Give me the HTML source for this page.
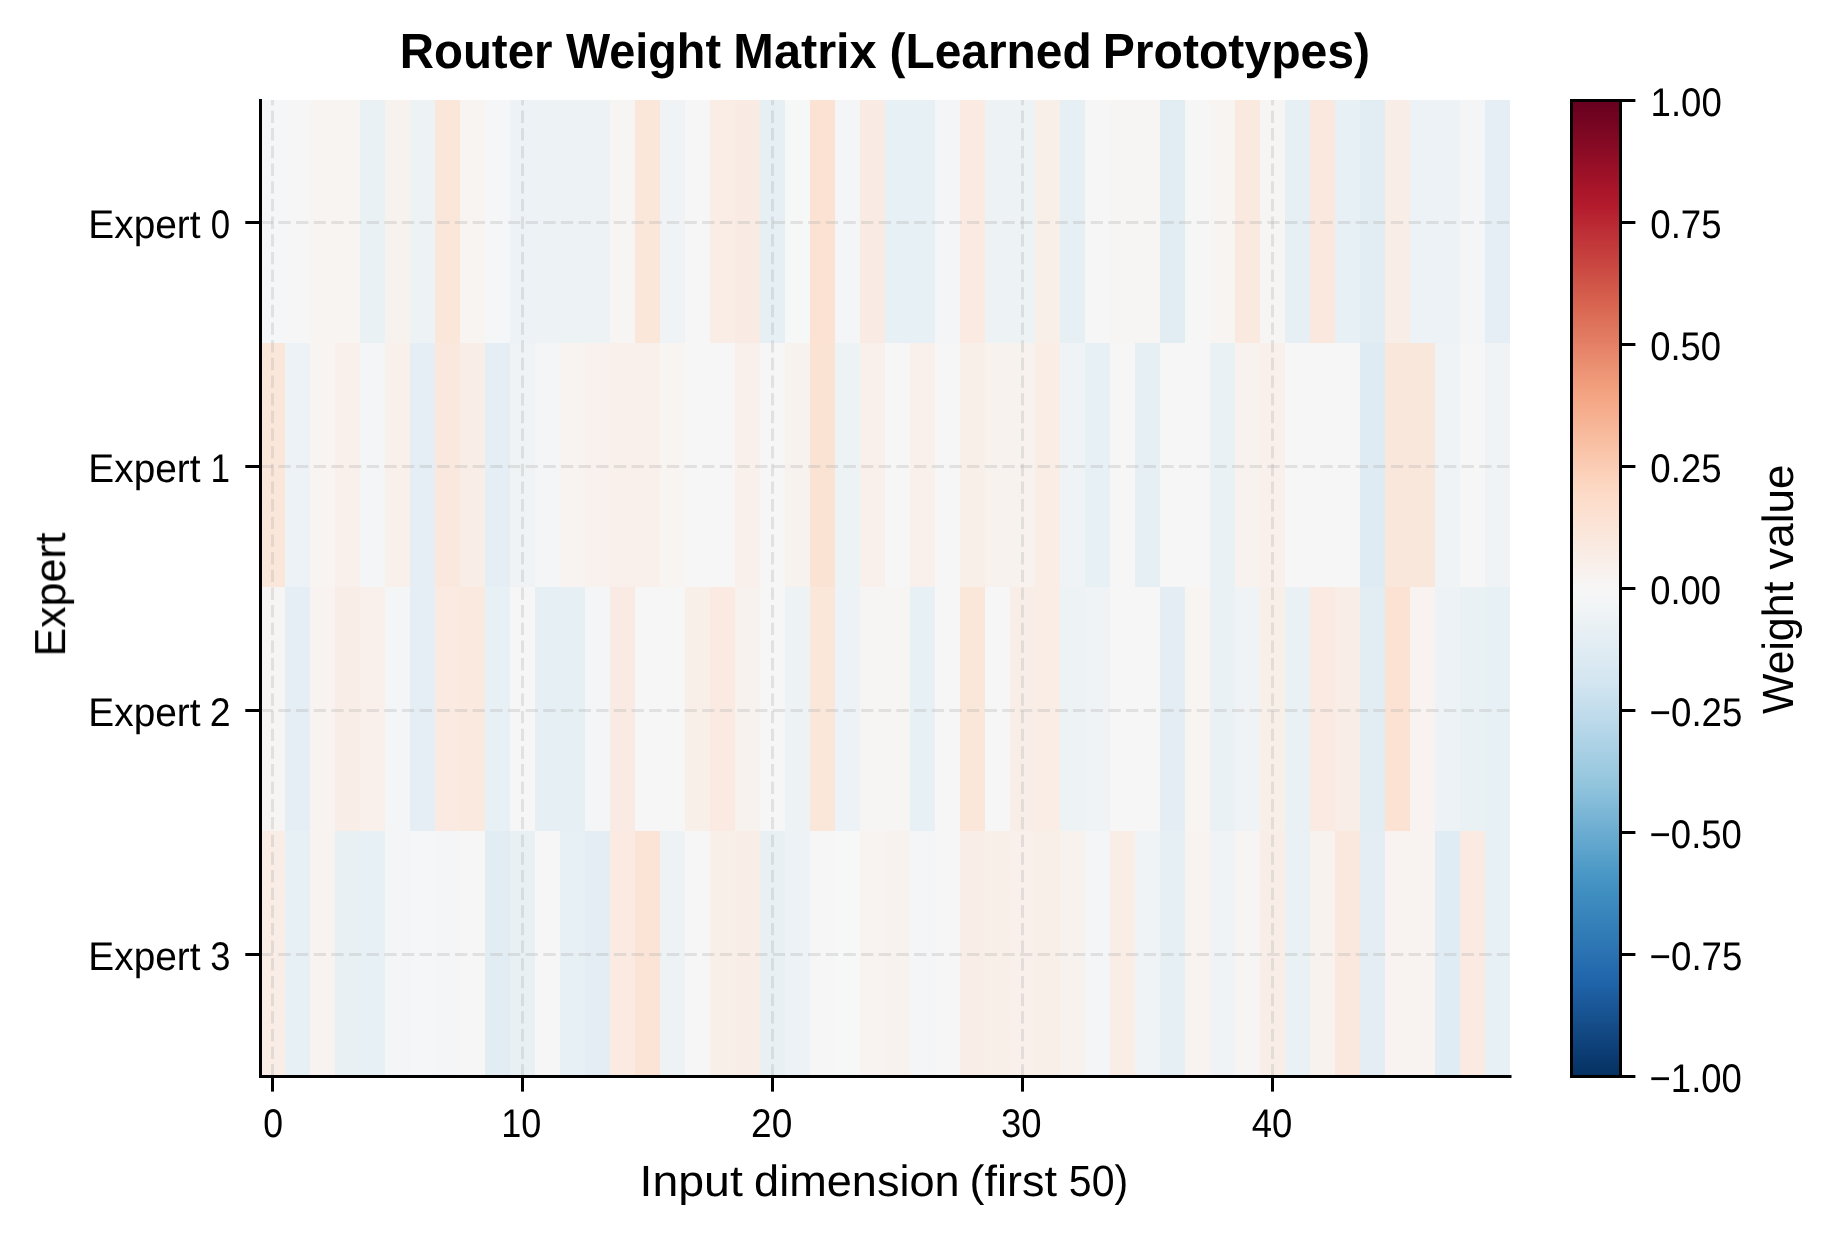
<!DOCTYPE html>
<html><head><meta charset="utf-8"><title>Router Weight Matrix (Learned Prototypes)</title>
<style>
html,body{margin:0;padding:0;background:#fff;}
body{width:1831px;height:1234px;overflow:hidden;font-family:"Liberation Sans",sans-serif;}
svg text{font-family:"Liberation Sans",sans-serif;}
</style></head><body>
<svg width="1831" height="1234" viewBox="0 0 1831 1234" style="display:block">
<defs><linearGradient id="cb" x1="0" y1="0" x2="0" y2="1">
<stop offset="0.0000" stop-color="#67001f"/>
<stop offset="0.0156" stop-color="#700320"/>
<stop offset="0.0312" stop-color="#7c0722"/>
<stop offset="0.0469" stop-color="#870a24"/>
<stop offset="0.0625" stop-color="#930e26"/>
<stop offset="0.0781" stop-color="#9f1228"/>
<stop offset="0.0938" stop-color="#ab162a"/>
<stop offset="0.1094" stop-color="#b41c2d"/>
<stop offset="0.1250" stop-color="#ba2832"/>
<stop offset="0.1406" stop-color="#bf3338"/>
<stop offset="0.1562" stop-color="#c53e3d"/>
<stop offset="0.1719" stop-color="#cb4942"/>
<stop offset="0.1875" stop-color="#d05548"/>
<stop offset="0.2031" stop-color="#d6604d"/>
<stop offset="0.2188" stop-color="#db6b55"/>
<stop offset="0.2344" stop-color="#df765e"/>
<stop offset="0.2500" stop-color="#e48066"/>
<stop offset="0.2656" stop-color="#e98b6e"/>
<stop offset="0.2812" stop-color="#ee9677"/>
<stop offset="0.2969" stop-color="#f2a17f"/>
<stop offset="0.3125" stop-color="#f5aa89"/>
<stop offset="0.3281" stop-color="#f6b394"/>
<stop offset="0.3438" stop-color="#f8bb9e"/>
<stop offset="0.3594" stop-color="#f9c4a9"/>
<stop offset="0.3750" stop-color="#fbccb4"/>
<stop offset="0.3906" stop-color="#fcd5bf"/>
<stop offset="0.4062" stop-color="#fddcc9"/>
<stop offset="0.4219" stop-color="#fce0d0"/>
<stop offset="0.4375" stop-color="#fbe5d8"/>
<stop offset="0.4531" stop-color="#fae9df"/>
<stop offset="0.4688" stop-color="#f9eee7"/>
<stop offset="0.4844" stop-color="#f8f2ef"/>
<stop offset="0.5000" stop-color="#f7f6f6"/>
<stop offset="0.5156" stop-color="#f2f5f6"/>
<stop offset="0.5312" stop-color="#ecf2f5"/>
<stop offset="0.5469" stop-color="#e6eff4"/>
<stop offset="0.5625" stop-color="#e0ecf3"/>
<stop offset="0.5781" stop-color="#dae9f2"/>
<stop offset="0.5938" stop-color="#d4e6f1"/>
<stop offset="0.6094" stop-color="#cce2ef"/>
<stop offset="0.6250" stop-color="#c2ddec"/>
<stop offset="0.6406" stop-color="#b8d8e9"/>
<stop offset="0.6562" stop-color="#aed3e6"/>
<stop offset="0.6719" stop-color="#a5cee3"/>
<stop offset="0.6875" stop-color="#9bc9e0"/>
<stop offset="0.7031" stop-color="#90c4dd"/>
<stop offset="0.7188" stop-color="#84bcd9"/>
<stop offset="0.7344" stop-color="#78b4d5"/>
<stop offset="0.7500" stop-color="#6bacd1"/>
<stop offset="0.7656" stop-color="#5fa5cd"/>
<stop offset="0.7812" stop-color="#529dc8"/>
<stop offset="0.7969" stop-color="#4695c4"/>
<stop offset="0.8125" stop-color="#3f8ec0"/>
<stop offset="0.8281" stop-color="#3a87bd"/>
<stop offset="0.8438" stop-color="#3480b9"/>
<stop offset="0.8594" stop-color="#2f79b5"/>
<stop offset="0.8750" stop-color="#2a71b2"/>
<stop offset="0.8906" stop-color="#246aae"/>
<stop offset="0.9062" stop-color="#1f63a8"/>
<stop offset="0.9219" stop-color="#1b5a9c"/>
<stop offset="0.9375" stop-color="#175290"/>
<stop offset="0.9531" stop-color="#124984"/>
<stop offset="0.9688" stop-color="#0e4179"/>
<stop offset="0.9844" stop-color="#09386d"/>
<stop offset="1.0000" stop-color="#053061"/>
</linearGradient></defs>
<rect width="1831" height="1234" fill="#ffffff"/>
<g shape-rendering="crispEdges">
<rect x="260" y="100" width="25" height="243" fill="#f5f6f7"/>
<rect x="285" y="100" width="25" height="243" fill="#f7f6f6"/>
<rect x="310" y="100" width="50" height="243" fill="#f8f4f2"/>
<rect x="360" y="100" width="25" height="243" fill="#eaf1f5"/>
<rect x="385" y="100" width="25" height="243" fill="#f8f2ef"/>
<rect x="410" y="100" width="25" height="243" fill="#edf2f5"/>
<rect x="435" y="100" width="25" height="243" fill="#fbe6da"/>
<rect x="460" y="100" width="25" height="243" fill="#f8f4f2"/>
<rect x="485" y="100" width="25" height="243" fill="#f5f6f7"/>
<rect x="510" y="100" width="25" height="243" fill="#ecf2f5"/>
<rect x="535" y="100" width="75" height="243" fill="#edf2f5"/>
<rect x="610" y="100" width="25" height="243" fill="#f7f5f4"/>
<rect x="635" y="100" width="25" height="243" fill="#fbe6da"/>
<rect x="660" y="100" width="25" height="243" fill="#eff3f5"/>
<rect x="685" y="100" width="25" height="243" fill="#f7f6f6"/>
<rect x="710" y="100" width="25" height="243" fill="#f9ede5"/>
<rect x="735" y="100" width="25" height="243" fill="#f9ebe3"/>
<rect x="760" y="100" width="25" height="243" fill="#e6eff4"/>
<rect x="785" y="100" width="25" height="243" fill="#f6f7f7"/>
<rect x="810" y="100" width="25" height="243" fill="#fce2d2"/>
<rect x="835" y="100" width="25" height="243" fill="#f3f5f6"/>
<rect x="860" y="100" width="25" height="243" fill="#f9ebe3"/>
<rect x="885" y="100" width="50" height="243" fill="#e7f0f4"/>
<rect x="935" y="100" width="25" height="243" fill="#f3f5f6"/>
<rect x="960" y="100" width="25" height="243" fill="#faeae1"/>
<rect x="985" y="100" width="50" height="243" fill="#edf2f5"/>
<rect x="1035" y="100" width="25" height="243" fill="#f9efe9"/>
<rect x="1060" y="100" width="25" height="243" fill="#e6eff4"/>
<rect x="1085" y="100" width="25" height="243" fill="#f7f6f6"/>
<rect x="1110" y="100" width="50" height="243" fill="#f7f5f4"/>
<rect x="1160" y="100" width="25" height="243" fill="#e1edf3"/>
<rect x="1185" y="100" width="25" height="243" fill="#f7f6f6"/>
<rect x="1210" y="100" width="25" height="243" fill="#f8f4f2"/>
<rect x="1235" y="100" width="25" height="243" fill="#fae9df"/>
<rect x="1260" y="100" width="25" height="243" fill="#f7f5f4"/>
<rect x="1285" y="100" width="25" height="243" fill="#e6eff4"/>
<rect x="1310" y="100" width="25" height="243" fill="#fae8de"/>
<rect x="1335" y="100" width="25" height="243" fill="#e7f0f4"/>
<rect x="1360" y="100" width="25" height="243" fill="#e1edf3"/>
<rect x="1385" y="100" width="25" height="243" fill="#f9eee7"/>
<rect x="1410" y="100" width="50" height="243" fill="#ecf2f5"/>
<rect x="1460" y="100" width="25" height="243" fill="#f3f5f6"/>
<rect x="1485" y="100" width="25" height="243" fill="#e4eef4"/>
<rect x="260" y="343" width="25" height="244" fill="#fbe6da"/>
<rect x="285" y="343" width="25" height="244" fill="#ecf2f5"/>
<rect x="310" y="343" width="25" height="244" fill="#f8f4f2"/>
<rect x="335" y="343" width="25" height="244" fill="#f9f0eb"/>
<rect x="360" y="343" width="25" height="244" fill="#f3f5f6"/>
<rect x="385" y="343" width="25" height="244" fill="#f9f0eb"/>
<rect x="410" y="343" width="25" height="244" fill="#e4eef4"/>
<rect x="435" y="343" width="25" height="244" fill="#fae8de"/>
<rect x="460" y="343" width="25" height="244" fill="#f9eee7"/>
<rect x="485" y="343" width="25" height="244" fill="#e4eef4"/>
<rect x="510" y="343" width="25" height="244" fill="#eff3f5"/>
<rect x="535" y="343" width="25" height="244" fill="#f3f5f6"/>
<rect x="560" y="343" width="25" height="244" fill="#f8f3f0"/>
<rect x="585" y="343" width="25" height="244" fill="#f8f1ed"/>
<rect x="610" y="343" width="50" height="244" fill="#f9f0eb"/>
<rect x="660" y="343" width="25" height="244" fill="#f8f4f2"/>
<rect x="685" y="343" width="50" height="244" fill="#f7f6f6"/>
<rect x="735" y="343" width="25" height="244" fill="#f9f0eb"/>
<rect x="760" y="343" width="25" height="244" fill="#f7f6f6"/>
<rect x="785" y="343" width="25" height="244" fill="#f8f2ef"/>
<rect x="810" y="343" width="25" height="244" fill="#fbe3d4"/>
<rect x="835" y="343" width="25" height="244" fill="#edf2f5"/>
<rect x="860" y="343" width="25" height="244" fill="#f9f0eb"/>
<rect x="885" y="343" width="25" height="244" fill="#f7f6f6"/>
<rect x="910" y="343" width="25" height="244" fill="#f9f0eb"/>
<rect x="935" y="343" width="25" height="244" fill="#f7f6f6"/>
<rect x="960" y="343" width="25" height="244" fill="#f9efe9"/>
<rect x="985" y="343" width="50" height="244" fill="#f8f2ef"/>
<rect x="1035" y="343" width="25" height="244" fill="#f9ede5"/>
<rect x="1060" y="343" width="25" height="244" fill="#eff3f5"/>
<rect x="1085" y="343" width="25" height="244" fill="#e7f0f4"/>
<rect x="1110" y="343" width="25" height="244" fill="#f7f6f6"/>
<rect x="1135" y="343" width="25" height="244" fill="#e6eff4"/>
<rect x="1160" y="343" width="50" height="244" fill="#f7f6f6"/>
<rect x="1210" y="343" width="25" height="244" fill="#eaf1f5"/>
<rect x="1235" y="343" width="25" height="244" fill="#f8f2ef"/>
<rect x="1260" y="343" width="25" height="244" fill="#f9f0eb"/>
<rect x="1285" y="343" width="75" height="244" fill="#f7f6f6"/>
<rect x="1360" y="343" width="25" height="244" fill="#deebf2"/>
<rect x="1385" y="343" width="50" height="244" fill="#fae7dc"/>
<rect x="1435" y="343" width="25" height="244" fill="#eff3f5"/>
<rect x="1460" y="343" width="25" height="244" fill="#f7f6f6"/>
<rect x="1485" y="343" width="25" height="244" fill="#eff3f5"/>
<rect x="260" y="587" width="25" height="244" fill="#f7f5f4"/>
<rect x="285" y="587" width="25" height="244" fill="#e4eef4"/>
<rect x="310" y="587" width="25" height="244" fill="#f8f3f0"/>
<rect x="335" y="587" width="25" height="244" fill="#f9eee7"/>
<rect x="360" y="587" width="25" height="244" fill="#f9f0eb"/>
<rect x="385" y="587" width="25" height="244" fill="#f3f5f6"/>
<rect x="410" y="587" width="25" height="244" fill="#e4eef4"/>
<rect x="435" y="587" width="25" height="244" fill="#faeae1"/>
<rect x="460" y="587" width="25" height="244" fill="#fae9df"/>
<rect x="485" y="587" width="25" height="244" fill="#e7f0f4"/>
<rect x="510" y="587" width="25" height="244" fill="#f7f6f6"/>
<rect x="535" y="587" width="50" height="244" fill="#e6eff4"/>
<rect x="585" y="587" width="25" height="244" fill="#f3f5f6"/>
<rect x="610" y="587" width="25" height="244" fill="#f9ebe3"/>
<rect x="635" y="587" width="50" height="244" fill="#f7f6f6"/>
<rect x="685" y="587" width="25" height="244" fill="#f9efe9"/>
<rect x="710" y="587" width="25" height="244" fill="#faeae1"/>
<rect x="735" y="587" width="25" height="244" fill="#f8f2ef"/>
<rect x="760" y="587" width="25" height="244" fill="#f7f6f6"/>
<rect x="785" y="587" width="25" height="244" fill="#edf2f5"/>
<rect x="810" y="587" width="25" height="244" fill="#fbe6da"/>
<rect x="835" y="587" width="25" height="244" fill="#ecf2f5"/>
<rect x="860" y="587" width="50" height="244" fill="#f7f5f4"/>
<rect x="910" y="587" width="25" height="244" fill="#e7f0f4"/>
<rect x="935" y="587" width="25" height="244" fill="#f7f6f6"/>
<rect x="960" y="587" width="25" height="244" fill="#fbe6da"/>
<rect x="985" y="587" width="25" height="244" fill="#f7f6f6"/>
<rect x="1010" y="587" width="25" height="244" fill="#f9eee7"/>
<rect x="1035" y="587" width="25" height="244" fill="#f9ede5"/>
<rect x="1060" y="587" width="25" height="244" fill="#edf2f5"/>
<rect x="1085" y="587" width="25" height="244" fill="#eff3f5"/>
<rect x="1110" y="587" width="50" height="244" fill="#f7f6f6"/>
<rect x="1160" y="587" width="25" height="244" fill="#e3edf3"/>
<rect x="1185" y="587" width="25" height="244" fill="#f8f4f2"/>
<rect x="1210" y="587" width="25" height="244" fill="#eaf1f5"/>
<rect x="1235" y="587" width="25" height="244" fill="#eff3f5"/>
<rect x="1260" y="587" width="25" height="244" fill="#f9efe9"/>
<rect x="1285" y="587" width="25" height="244" fill="#eaf1f5"/>
<rect x="1310" y="587" width="25" height="244" fill="#faeae1"/>
<rect x="1335" y="587" width="25" height="244" fill="#f9eee7"/>
<rect x="1360" y="587" width="25" height="244" fill="#e1edf3"/>
<rect x="1385" y="587" width="25" height="244" fill="#fce2d2"/>
<rect x="1410" y="587" width="25" height="244" fill="#f8f3f0"/>
<rect x="1435" y="587" width="25" height="244" fill="#ecf2f5"/>
<rect x="1460" y="587" width="25" height="244" fill="#eaf1f5"/>
<rect x="1485" y="587" width="25" height="244" fill="#e7f0f4"/>
<rect x="260" y="831" width="25" height="245" fill="#f9ede5"/>
<rect x="285" y="831" width="25" height="245" fill="#e7f0f4"/>
<rect x="310" y="831" width="25" height="245" fill="#f8f3f0"/>
<rect x="335" y="831" width="25" height="245" fill="#e9f0f4"/>
<rect x="360" y="831" width="25" height="245" fill="#e7f0f4"/>
<rect x="385" y="831" width="25" height="245" fill="#f3f5f6"/>
<rect x="410" y="831" width="25" height="245" fill="#f5f6f7"/>
<rect x="435" y="831" width="25" height="245" fill="#f3f5f6"/>
<rect x="460" y="831" width="25" height="245" fill="#f7f6f6"/>
<rect x="485" y="831" width="25" height="245" fill="#e1edf3"/>
<rect x="510" y="831" width="25" height="245" fill="#e9f0f4"/>
<rect x="535" y="831" width="25" height="245" fill="#f7f6f6"/>
<rect x="560" y="831" width="25" height="245" fill="#e7f0f4"/>
<rect x="585" y="831" width="25" height="245" fill="#e3edf3"/>
<rect x="610" y="831" width="25" height="245" fill="#faeae1"/>
<rect x="635" y="831" width="25" height="245" fill="#fbe4d6"/>
<rect x="660" y="831" width="25" height="245" fill="#edf2f5"/>
<rect x="685" y="831" width="25" height="245" fill="#f7f6f6"/>
<rect x="710" y="831" width="25" height="245" fill="#f9efe9"/>
<rect x="735" y="831" width="25" height="245" fill="#f9eee7"/>
<rect x="760" y="831" width="25" height="245" fill="#e9f0f4"/>
<rect x="785" y="831" width="25" height="245" fill="#ecf2f5"/>
<rect x="810" y="831" width="25" height="245" fill="#f7f6f6"/>
<rect x="835" y="831" width="25" height="245" fill="#f6f7f7"/>
<rect x="860" y="831" width="25" height="245" fill="#f8f3f0"/>
<rect x="885" y="831" width="25" height="245" fill="#f8f2ef"/>
<rect x="910" y="831" width="25" height="245" fill="#f3f5f6"/>
<rect x="935" y="831" width="25" height="245" fill="#f7f6f6"/>
<rect x="960" y="831" width="25" height="245" fill="#f9eee7"/>
<rect x="985" y="831" width="25" height="245" fill="#f9efe9"/>
<rect x="1010" y="831" width="25" height="245" fill="#f9f0eb"/>
<rect x="1035" y="831" width="25" height="245" fill="#f9efe9"/>
<rect x="1060" y="831" width="25" height="245" fill="#f8f2ef"/>
<rect x="1085" y="831" width="25" height="245" fill="#f3f5f6"/>
<rect x="1110" y="831" width="25" height="245" fill="#f9ede5"/>
<rect x="1135" y="831" width="25" height="245" fill="#eff3f5"/>
<rect x="1160" y="831" width="25" height="245" fill="#e6eff4"/>
<rect x="1185" y="831" width="25" height="245" fill="#f8f3f0"/>
<rect x="1210" y="831" width="25" height="245" fill="#eff3f5"/>
<rect x="1235" y="831" width="25" height="245" fill="#f7f5f4"/>
<rect x="1260" y="831" width="25" height="245" fill="#f9eee7"/>
<rect x="1285" y="831" width="25" height="245" fill="#eaf1f5"/>
<rect x="1310" y="831" width="25" height="245" fill="#f8f2ef"/>
<rect x="1335" y="831" width="25" height="245" fill="#fae8de"/>
<rect x="1360" y="831" width="25" height="245" fill="#e3edf3"/>
<rect x="1385" y="831" width="50" height="245" fill="#f8f3f0"/>
<rect x="1435" y="831" width="25" height="245" fill="#e0ecf3"/>
<rect x="1460" y="831" width="25" height="245" fill="#faeae1"/>
<rect x="1485" y="831" width="25" height="245" fill="#e7f0f4"/>
</g>
<g stroke="#b0b0b0" stroke-opacity="0.3" stroke-width="3.0" stroke-dasharray="12.33 5.33" fill="none">
<line x1="272.5" y1="1076.57" x2="272.5" y2="100"/>
<line x1="522.5" y1="1076.57" x2="522.5" y2="100"/>
<line x1="772.5" y1="1076.57" x2="772.5" y2="100"/>
<line x1="1022.5" y1="1076.57" x2="1022.5" y2="100"/>
<line x1="1272.5" y1="1076.57" x2="1272.5" y2="100"/>
<line x1="260.67" y1="222.5" x2="1510" y2="222.5"/>
<line x1="260.67" y1="466.5" x2="1510" y2="466.5"/>
<line x1="260.67" y1="710.5" x2="1510" y2="710.5"/>
<line x1="260.67" y1="954.5" x2="1510" y2="954.5"/>
</g>
<g stroke="#000" stroke-width="3.0" fill="none">
<path d="M260.5 99 V1076.5 H1511.5" stroke-linejoin="miter"/>
<line x1="272.5" y1="1076.5" x2="272.5" y2="1091.6"/>
<line x1="522.5" y1="1076.5" x2="522.5" y2="1091.6"/>
<line x1="772.5" y1="1076.5" x2="772.5" y2="1091.6"/>
<line x1="1022.5" y1="1076.5" x2="1022.5" y2="1091.6"/>
<line x1="1272.5" y1="1076.5" x2="1272.5" y2="1091.6"/>
<line x1="260.5" y1="222.5" x2="245.3" y2="222.5"/>
<line x1="260.5" y1="466.5" x2="245.3" y2="466.5"/>
<line x1="260.5" y1="710.5" x2="245.3" y2="710.5"/>
<line x1="260.5" y1="954.5" x2="245.3" y2="954.5"/>
</g>
<rect x="1571.5" y="100.5" width="49.0" height="976.0" fill="url(#cb)" stroke="#000" stroke-width="3.0"/>
<g stroke="#000" stroke-width="3.0">
<line x1="1620.5" y1="100.50" x2="1635.4" y2="100.50"/>
<line x1="1620.5" y1="222.50" x2="1635.4" y2="222.50"/>
<line x1="1620.5" y1="344.50" x2="1635.4" y2="344.50"/>
<line x1="1620.5" y1="466.50" x2="1635.4" y2="466.50"/>
<line x1="1620.5" y1="588.50" x2="1635.4" y2="588.50"/>
<line x1="1620.5" y1="710.50" x2="1635.4" y2="710.50"/>
<line x1="1620.5" y1="832.50" x2="1635.4" y2="832.50"/>
<line x1="1620.5" y1="954.50" x2="1635.4" y2="954.50"/>
<line x1="1620.5" y1="1076.50" x2="1635.4" y2="1076.50"/>
</g>
<g font-family="'Liberation Sans', sans-serif" fill="#000" style="opacity:0.999" text-rendering="geometricPrecision">
<text x="399.74" y="68.20" font-size="49.3" textLength="152.73" lengthAdjust="spacingAndGlyphs" font-weight="bold">Router</text>
<text x="566.00" y="68.20" font-size="49.3" textLength="155.03" lengthAdjust="spacingAndGlyphs" font-weight="bold">Weight</text>
<text x="733.36" y="68.20" font-size="49.3" textLength="143.33" lengthAdjust="spacingAndGlyphs" font-weight="bold">Matrix</text>
<text x="889.56" y="68.20" font-size="49.3" textLength="202.10" lengthAdjust="spacingAndGlyphs" font-weight="bold">(Learned</text>
<text x="1102.69" y="68.20" font-size="49.3" textLength="267.45" lengthAdjust="spacingAndGlyphs" font-weight="bold">Prototypes)</text>
<text x="639.57" y="1196.00" font-size="43.7" textLength="103.27" lengthAdjust="spacingAndGlyphs">Input</text>
<text x="754.09" y="1196.00" font-size="43.7" textLength="205.64" lengthAdjust="spacingAndGlyphs">dimension</text>
<text x="969.59" y="1196.00" font-size="43.7" textLength="87.35" lengthAdjust="spacingAndGlyphs">(first</text>
<text x="1068.82" y="1196.00" font-size="43.7" textLength="59.31" lengthAdjust="spacingAndGlyphs">50)</text>
<text x="263.29" y="1137.00" font-size="40.0" textLength="19.80" lengthAdjust="spacingAndGlyphs">0</text>
<text x="501.25" y="1137.00" font-size="40.0" textLength="40.05" lengthAdjust="spacingAndGlyphs">10</text>
<text x="751.06" y="1137.00" font-size="40.0" textLength="41.26" lengthAdjust="spacingAndGlyphs">20</text>
<text x="1000.96" y="1137.00" font-size="40.0" textLength="40.55" lengthAdjust="spacingAndGlyphs">30</text>
<text x="1251.73" y="1137.00" font-size="40.0" textLength="40.58" lengthAdjust="spacingAndGlyphs">40</text>
<text x="88.37" y="238.20" font-size="40.0" textLength="112.20" lengthAdjust="spacingAndGlyphs">Expert</text>
<text x="210.71" y="238.20" font-size="40.0" textLength="19.35" lengthAdjust="spacingAndGlyphs">0</text>
<text x="88.37" y="482.20" font-size="40.0" textLength="112.20" lengthAdjust="spacingAndGlyphs">Expert</text>
<text x="210.51" y="482.20" font-size="40.0" textLength="19.52" lengthAdjust="spacingAndGlyphs">1</text>
<text x="88.37" y="726.20" font-size="40.0" textLength="112.20" lengthAdjust="spacingAndGlyphs">Expert</text>
<text x="209.64" y="726.20" font-size="40.0" textLength="20.88" lengthAdjust="spacingAndGlyphs">2</text>
<text x="88.37" y="970.20" font-size="40.0" textLength="112.20" lengthAdjust="spacingAndGlyphs">Expert</text>
<text x="210.26" y="970.20" font-size="40.0" textLength="20.21" lengthAdjust="spacingAndGlyphs">3</text>
<text x="1650.61" y="115.90" font-size="40.0" textLength="71.20" lengthAdjust="spacingAndGlyphs">1.00</text>
<text x="1650.25" y="237.90" font-size="40.0" textLength="71.43" lengthAdjust="spacingAndGlyphs">0.75</text>
<text x="1650.26" y="359.90" font-size="40.0" textLength="70.84" lengthAdjust="spacingAndGlyphs">0.50</text>
<text x="1650.25" y="481.90" font-size="40.0" textLength="71.43" lengthAdjust="spacingAndGlyphs">0.25</text>
<text x="1650.26" y="603.90" font-size="40.0" textLength="70.84" lengthAdjust="spacingAndGlyphs">0.00</text>
<text x="1649.58" y="725.90" font-size="40.0" textLength="92.81" lengthAdjust="spacingAndGlyphs">−0.25</text>
<text x="1649.59" y="847.90" font-size="40.0" textLength="92.22" lengthAdjust="spacingAndGlyphs">−0.50</text>
<text x="1649.58" y="969.90" font-size="40.0" textLength="92.81" lengthAdjust="spacingAndGlyphs">−0.75</text>
<text x="1649.59" y="1091.90" font-size="40.0" textLength="92.22" lengthAdjust="spacingAndGlyphs">−1.00</text>
<text transform="translate(65.10,656.45) rotate(-90)" x="0" y="0" font-size="43.7" textLength="124.01" lengthAdjust="spacingAndGlyphs">Expert</text>
<text transform="translate(1792.60,713.90) rotate(-90)" x="0" y="0" font-size="43.7" textLength="132.15" lengthAdjust="spacingAndGlyphs">Weight</text>
<text transform="translate(1792.60,569.80) rotate(-90)" x="0" y="0" font-size="43.7" textLength="105.28" lengthAdjust="spacingAndGlyphs">value</text>
</g>
</svg>
</body></html>
